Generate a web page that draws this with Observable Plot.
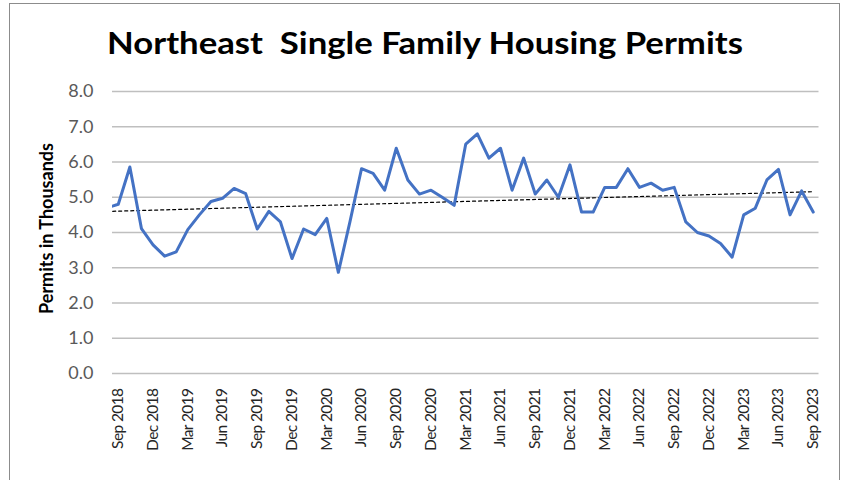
<!DOCTYPE html>
<html>
<head>
<meta charset="utf-8">
<script src="https://cdn.jsdelivr.net/npm/d3@7"></script>
<script src="https://cdn.jsdelivr.net/npm/@observablehq/plot@0.6"></script>
<style>
  html, body { margin: 0; padding: 0; background: #fff; }
  #wrap { position: relative; width: 845px; height: 480px; overflow: hidden; background: #fff; }
  #frame { position: absolute; left: 9px; top: 3px; width: 831px; height: 500px; border: 1px solid #8c8c8c; box-sizing: border-box; }
  #title { position: absolute; left: 9px; width: 832px; top: 27px; text-align: center; font-family: Lato, sans-serif; font-weight: 700; font-size: 31px; line-height: 31px; color: #000; white-space: pre; transform: scaleX(1.12); transform-origin: 416px 50%; }
  #chart { position: absolute; left: 0; top: 75px; }
  #chart g[aria-label="x-axis tick label"] text { letter-spacing: -0.6px; }
</style>
</head>
<body>
<div id="wrap">
  <div id="frame"></div>
  <div id="title">Northeast  Single Family Housing Permits</div>
  <div id="chart"></div>
</div>
<script>
// Monthly categories (first month sits just outside the visible axis start)
const months = [
  "Aug 2018","Sep 2018","Oct 2018","Nov 2018","Dec 2018",
  "Jan 2019","Feb 2019","Mar 2019","Apr 2019","May 2019","Jun 2019","Jul 2019","Aug 2019","Sep 2019","Oct 2019","Nov 2019","Dec 2019",
  "Jan 2020","Feb 2020","Mar 2020","Apr 2020","May 2020","Jun 2020","Jul 2020","Aug 2020","Sep 2020","Oct 2020","Nov 2020","Dec 2020",
  "Jan 2021","Feb 2021","Mar 2021","Apr 2021","May 2021","Jun 2021","Jul 2021","Aug 2021","Sep 2021","Oct 2021","Nov 2021","Dec 2021",
  "Jan 2022","Feb 2022","Mar 2022","Apr 2022","May 2022","Jun 2022","Jul 2022","Aug 2022","Sep 2022","Oct 2022","Nov 2022","Dec 2022",
  "Jan 2023","Feb 2023","Mar 2023","Apr 2023","May 2023","Jun 2023","Jul 2023","Aug 2023","Sep 2023"
];

// Permits in thousands
const permits = [
  4.70, 4.80, 5.86, 4.11, 3.65,
  3.33, 3.45, 4.08, 4.50, 4.88, 4.97, 5.25, 5.10, 4.10, 4.60, 4.30, 3.26,
  4.10, 3.94, 4.40, 2.87, 4.30, 5.81, 5.68, 5.20, 6.39, 5.49, 5.09, 5.20,
  4.99, 4.77, 6.51, 6.80, 6.11, 6.39, 5.20, 6.11, 5.09, 5.49, 5.00, 5.92,
  4.58, 4.58, 5.28, 5.28, 5.81, 5.28, 5.40, 5.20, 5.28, 4.30, 4.00, 3.90,
  3.69, 3.30, 4.50, 4.69, 5.49, 5.79, 4.50, 5.18, 4.58
];

// Tick labels shown on the x axis
const xTickLabels = [
  "Sep 2018","Dec 2018","Mar 2019","Jun 2019","Sep 2019","Dec 2019","Mar 2020",
  "Jun 2020","Sep 2020","Dec 2020","Mar 2021","Jun 2021","Sep 2021","Dec 2021",
  "Mar 2022","Jun 2022","Sep 2022","Dec 2022","Mar 2023","Jun 2023","Sep 2023"
];

// Y axis ticks
const yTicks = [0, 1, 2, 3, 4, 5, 6, 7, 8];

const data = permits.map((v, i) => ({i, month: months[i], v}));
const xTicks = xTickLabels.map(l => months.indexOf(l));

const chart = Plot.plot({
  width: 845,
  height: 405,
  marginLeft: 112,
  marginRight: 26.5,
  marginTop: 16,
  marginBottom: 107,
  style: {fontFamily: "Lato, sans-serif", background: "transparent", overflow: "visible"},
  x: {type: "linear", domain: [0.5, months.length - 0.5]},
  y: {domain: [0, 8]},
  marks: [
    Plot.gridY(yTicks, {stroke: "#bfbfbf", strokeOpacity: 1, strokeWidth: 1.3}),
    Plot.axisY(yTicks, {tickFormat: d => d.toFixed(1), tickSize: 0, tickPadding: 19, fontSize: 18, fill: "#595959", label: null}),
    Plot.axisX(xTicks, {tickFormat: i => months[i], tickRotate: -90, tickSize: 0, tickPadding: 15, fontSize: 15.5, fill: "#262626", label: null}),
    Plot.text(["Permits in Thousands"], {frameAnchor: "left", textAnchor: "middle", dx: -65, dy: -4, rotate: -90, fontWeight: "bold", fontSize: 18, fill: "#000", style: "letter-spacing: 0.6px"}),
    Plot.linearRegressionY(data, {x: "i", y: "v", ci: 0, stroke: "#000", strokeWidth: 1.2, strokeDasharray: "3,3", clip: true}),
    Plot.lineY(data, {x: "i", y: "v", stroke: "#4472C4", strokeWidth: 3, strokeLinejoin: "round", clip: true})
  ]
});
document.getElementById("chart").appendChild(chart);
</script>
</body>
</html>
